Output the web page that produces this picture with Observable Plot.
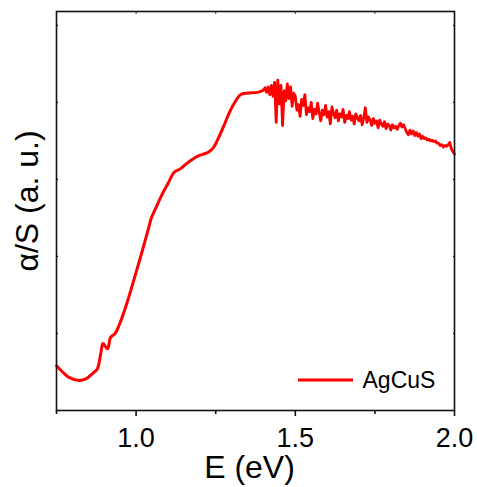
<!DOCTYPE html>
<html>
<head>
<meta charset="utf-8">
<script src="https://cdn.jsdelivr.net/npm/d3@7"></script>
<script src="https://cdn.jsdelivr.net/npm/@observablehq/plot@0.6"></script>
<style>
  html, body { margin: 0; padding: 0; background: #fff; }
  #chart { position: relative; width: 477px; height: 487px; }
</style>
</head>
<body>
<div id="chart"></div>
<script>
// ---- data ----
const seriesName = "AgCuS";
const xLabel = "E (eV)";
const yLabel = "α/S (a. u.)";
const xMajorTicks = [1.0, 1.5, 2.0];
const xMinorTicks = [0.75, 1.25, 1.75];
const yTicks = [1, 2, 3, 4, 5];
const xDomain = [0.75, 2.0];
const yDomain = [0, 5.18];

// smooth absorption edge
const energySmooth = [0.750,0.769,0.789,0.821,0.842,0.863,0.878,0.889,0.896,0.910,0.920,0.934,0.946,0.967,0.999,1.020,1.040,1.048,1.061,1.082,1.103,1.119,1.140,1.166,1.197,1.213,1.229,1.244,1.260,1.276,1.291,1.307,1.328,1.349,1.381];
const alphaSmooth = [0.58,0.50,0.43,0.39,0.41,0.48,0.54,0.74,0.87,0.80,0.95,1.00,1.10,1.34,1.78,2.08,2.38,2.50,2.62,2.81,2.97,3.09,3.14,3.23,3.31,3.33,3.36,3.42,3.55,3.70,3.85,3.98,4.10,4.12,4.13];

// noisy high-energy part
const energyNoisy = [1.400,1.405,1.410,1.415,1.420,1.425,1.430,1.435,1.440,1.445,1.450,1.455,1.460,1.465,1.470,1.475,1.480,1.485,1.490,1.495,
  1.500,1.505,1.510,1.515,1.520,1.525,1.530,1.535,1.540,1.545,1.550,1.555,1.560,1.565,1.570,1.575,1.580,1.585,1.590,1.595,
  1.600,1.605,1.610,1.615,1.620,1.625,1.630,1.635,1.640,1.645,1.650,1.655,1.660,1.665,1.670,1.675,1.680,1.685,1.690,1.695,
  1.700,1.705,1.710,1.715,1.720,1.725,1.730,1.735,1.740,1.745,1.750,1.755,1.760,1.765,1.770,1.775,1.780,1.785,1.790,1.795,
  1.800,1.805,1.810,1.815,1.820,1.825,1.830,1.835,1.840,1.845,1.850,1.855,1.860,1.865,1.870,1.875,1.880,1.885,1.890,1.895,
  1.900,1.905,1.910,1.915,1.920,1.925,1.930,1.935,1.940,1.945,1.950,1.955,1.960,1.965,1.970,1.975,1.980,1.985,1.990,1.995,2.000];
const alphaNoisy = [4.16,4.19,4.13,4.20,4.10,4.22,4.08,4.26,3.74,4.29,3.98,4.22,3.70,4.15,4.02,4.24,4.05,4.20,3.95,4.12,
  4.08,3.90,3.97,3.82,4.04,3.96,4.10,3.84,3.93,3.88,4.00,3.79,3.91,3.85,3.99,3.87,3.76,3.90,3.84,3.96,
  3.81,3.88,3.72,3.94,3.86,3.80,3.90,3.76,3.85,3.81,3.91,3.74,3.83,3.79,3.88,3.77,3.82,3.72,3.85,3.80,
  3.76,3.83,3.71,3.80,3.93,3.74,3.81,3.77,3.70,3.79,3.73,3.76,3.67,3.77,3.72,3.69,3.75,3.66,3.72,3.70,
  3.64,3.71,3.67,3.69,3.65,3.70,3.73,3.68,3.71,3.66,3.61,3.58,3.64,3.59,3.63,3.57,3.61,3.56,3.59,3.53,
  3.56,3.53,3.54,3.51,3.52,3.50,3.51,3.49,3.50,3.47,3.47,3.44,3.45,3.42,3.44,3.43,3.45,3.48,3.40,3.36,3.33];

const smoothData = energySmooth.concat([energyNoisy[0]]).map((e, i) => ({E: e, a: alphaSmooth.concat([alphaNoisy[0]])[i]}));
const noisyData = energyNoisy.map((e, i) => ({E: e, a: alphaNoisy[i]}));

const font = "'Liberation Sans', Arial, Helvetica, sans-serif";
const red = "#ff0000";

const chart = Plot.plot({
  width: 477,
  height: 487,
  marginLeft: 56,
  marginRight: 23,
  marginTop: 11,
  marginBottom: 77,
  style: {fontFamily: font, fontSize: "27px", color: "#000", background: "#fff"},
  x: {domain: xDomain, label: null},
  y: {domain: yDomain, label: null},
  marks: [
    Plot.line(smoothData, {x: "E", y: "a", stroke: red, strokeWidth: 3, curve: "catmull-rom", strokeLinejoin: "round"}),
    Plot.line(noisyData, {x: "E", y: "a", stroke: red, strokeWidth: 2.8, strokeLinejoin: "round"}),
    Plot.frame({stroke: "#111", strokeWidth: 1.6}),
    Plot.axisX({ticks: xMajorTicks, tickSize: 6, tickPadding: 11, tickFormat: d3.format(".1f"), stroke: "#111", strokeWidth: 1.6, fontSize: 27}),
    Plot.axisX({ticks: xMinorTicks, tickSize: 4, tickFormat: () => "", stroke: "#111", strokeWidth: 1.6}),
    Plot.axisX({anchor: "top", ticks: [1.0, 1.25, 1.5, 1.75], tickSize: -2, tickFormat: () => "", stroke: "#333", strokeWidth: 1}),
    Plot.axisY({anchor: "left", ticks: yTicks, tickSize: -2, tickFormat: () => "", stroke: "#111", strokeWidth: 1.2}),
    Plot.axisY({anchor: "right", ticks: yTicks, tickSize: -2, tickFormat: () => "", stroke: "#111", strokeWidth: 1.2}),
    Plot.text([xLabel], {frameAnchor: "bottom", dx: -6, dy: 57, fontSize: 32, fill: "#000", lineAnchor: "middle"}),
    Plot.text([yLabel], {frameAnchor: "left", textAnchor: "middle", rotate: -90, dx: -29, dy: -10, fontSize: 32, fill: "#000", lineAnchor: "middle"}),
    Plot.text([seriesName], {frameAnchor: "bottom-right", textAnchor: "start", dx: -92, dy: -30, fontSize: 23, fill: "#000", lineAnchor: "middle"})
  ]
});

// legend swatch
const svg = d3.select(chart);
svg.append("line")
  .attr("x1", 298).attr("x2", 353).attr("y1", 380).attr("y2", 380)
  .attr("stroke", red).attr("stroke-width", 2.8);

document.getElementById("chart").appendChild(chart);
</script>
</body>
</html>
